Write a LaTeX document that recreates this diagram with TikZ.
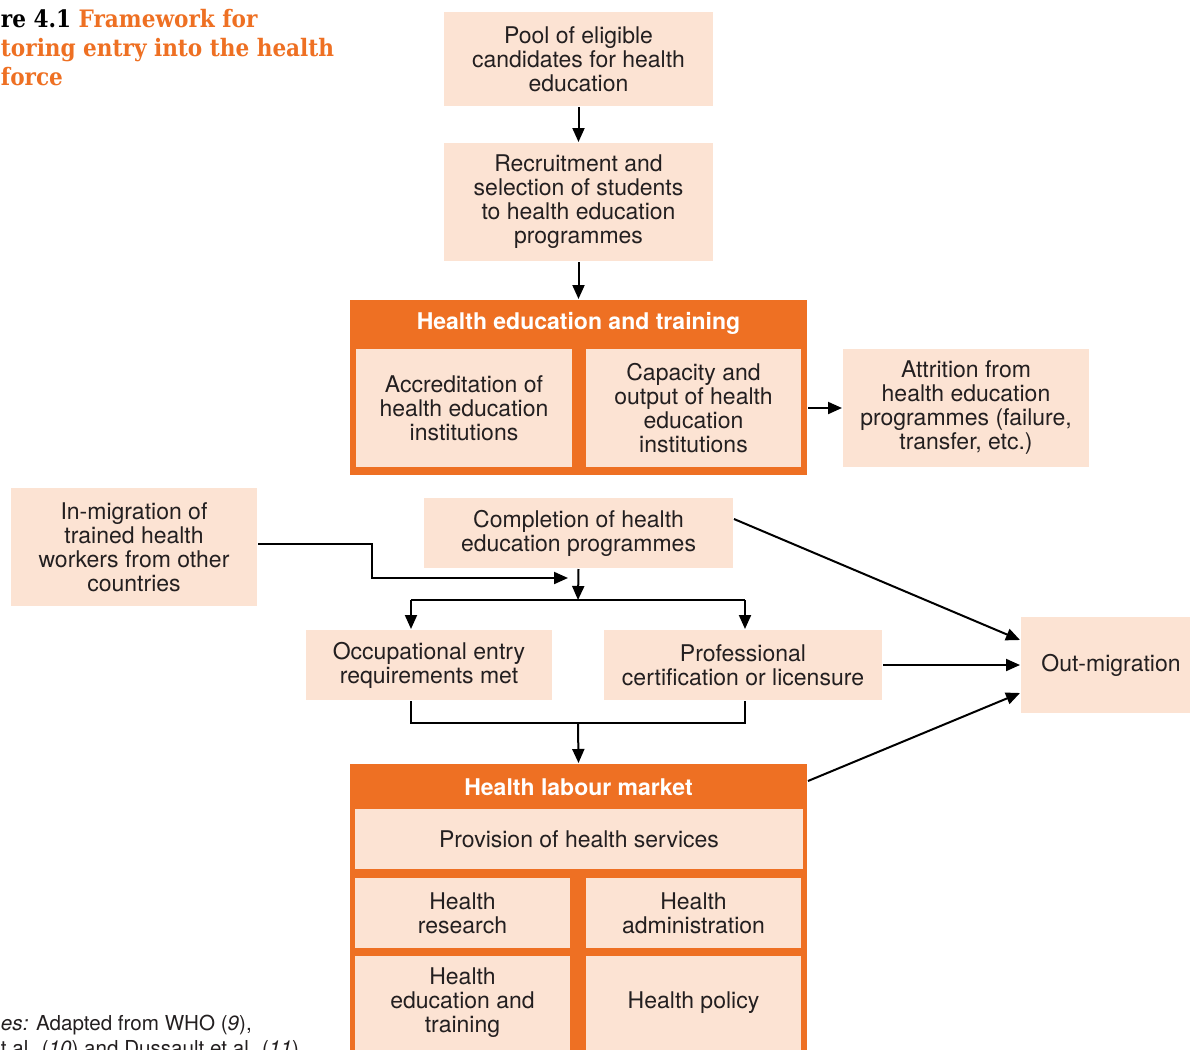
\documentclass[tikz,border=0pt]{standalone}
\usepackage{fontspec}
\setmainfont{TeX Gyre Heros}
\newfontfamily\slabfont{DejaVu Serif Condensed}
\usetikzlibrary{arrows.meta}
\definecolor{whoorange}{RGB}{238,112,35}
\definecolor{peach}{RGB}{252,227,211}
\definecolor{ink}{RGB}{35,31,32}

\begin{document}
\begin{tikzpicture}[x=0.5pt,y=-0.5pt,>={Triangle[length=7pt,width=6pt]},line width=1pt,
        wh/.style 2 args={minimum width=#1*0.5pt,minimum height=#2*0.5pt},
        box/.style={fill=peach,inner sep=0pt,align=center,text=ink,font=\fontsize{11.5}{12}\selectfont},
        frame/.style={fill=whoorange,inner sep=0pt},
        header/.style={text=white,inner sep=0pt,font=\fontsize{11.5}{12}\selectfont\bfseries},
        titleline/.style={anchor=base west,inner sep=0pt,font=\slabfont\bfseries\fontsize{12}{14}\selectfont,text=whoorange},
        note/.style={anchor=base west,inner sep=0pt,text=ink,font=\fontsize{10.3}{12}\selectfont}]
                \useasboundingbox (0,0) rectangle (1190,1050);
                % title and sources
                \node[titleline] (title1) at (0,27) {\textcolor{black}{re 4.1} Framework for};
                \node[titleline] (title2) at (0,56) {toring entry into the health};
                \node[titleline] (title3) at (0,85) {force};
                \node[note] (src1) at (0,1030) {\textit{es:} Adapted from WHO (\textit{9}),};
                \node[note] (src2) at (0,1055) {t al. (\textit{10}) and Dussault et al. (\textit{11}).};

                % entry into education
                \node[box, wh={269}{94}] (pool) at (578.5,59) {Pool of eligible\\candidates for health\\education};
                \node[box, wh={269}{118}] (recr) at (578.5,202) {Recruitment and\\selection of students\\to health education\\programmes};
                \node[frame, wh={457}{175}] (het) at (578.5,387.5) {};
                \node[header] (hethead) at (578.5,323) {Health education and training};
                \node[box, wh={216}{118}] (accr) at (464,408) {Accreditation of\\health education\\institutions};
                \node[box, wh={215}{118}] (capac) at (693.5,408) {Capacity and\\output of health\\education\\institutions};
                \node[box, wh={246}{118}] (attr) at (966,408) {Attrition from\\health education\\programmes (failure,\\transfer, etc.)};

                % completion and entry requirements
                \node[box, wh={246}{118}] (inmig) at (134,547) {In-migration of\\trained health\\workers from other\\countries};
                \node[box, wh={309}{70}] (compl) at (578.5,533) {Completion of health\\education programmes};
                \node[box, wh={246}{70}] (occ) at (429,665) {Occupational entry\\requirements met};
                \node[box, wh={278}{70}] (prof) at (743,665) {Professional\\certification or licensure};
                \node[box, wh={180}{96}] (outmig) at (1111,665) {Out-migration};

                % labour market
                \node[frame, wh={457}{320}] (hlm) at (578.5,924) {};
                \node[header] (hlmhead) at (578.5,787) {Health labour market};
                \node[box, wh={448}{60}] (prov) at (579,839) {Provision of health services};
                \node[box, wh={215}{70}] (hres) at (462.5,913) {Health\\research};
                \node[box, wh={215}{70}] (hadm) at (693.5,913) {Health\\administration};
                \node[box, wh={215}{94}] (hedu) at (462.5,1003) {Health\\education and\\training};
                \node[box, wh={215}{94}] (hpol) at (693.5,1003) {Health policy};

                \coordinate (bend) at (372,578);
                \coordinate (inarrow) at (568,578);
                \coordinate (split) at (578,600);
                \coordinate (sl) at (411,600);
                \coordinate (sr) at (745,600);
                \coordinate (merge) at (578,723);

                \draw[->] (pool) -- (recr);
                \draw[->] (recr) -- (het);
                \draw[->] (het.east |- attr.west) -- (attr.west);
                \draw[->] ([yshift=1.5pt]inmig.east) -| (bend) -- (inarrow);
                \draw[->] (compl.south) -- (split);
                \draw (sl) -- (sr);
                \draw[->] (sl) -- (sl |- occ.north);
                \draw[->] (sr) -- (sr |- prof.north);
                \draw (sl |- occ.south) -- (sl |- merge) -- (sr |- merge) -- (sr |- prof.south);
                \draw[->] (merge) -- (hlm.north);
                \draw[->] ([yshift=7pt]compl.east) -- ([yshift=12.5pt]outmig.west);
                \draw[->] (prof.east) -- (outmig.west);
                \draw[->] ([yshift=-9pt]hlm.north east) -- ([yshift=-14pt]outmig.west);
\end{tikzpicture}
\end{document}
